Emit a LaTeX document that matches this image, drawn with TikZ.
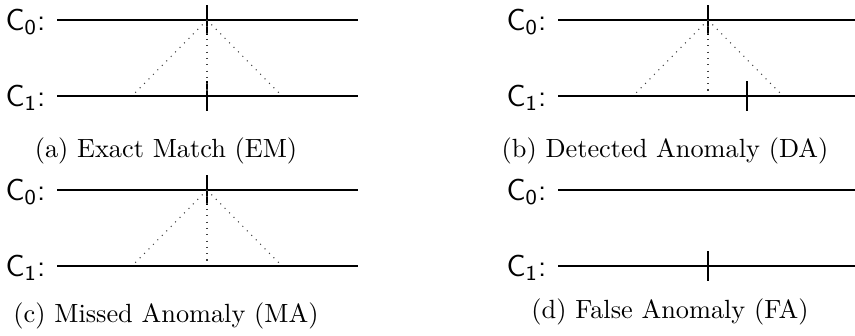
\documentclass[tikz,border=0pt]{standalone}
\usepackage{amsmath}
\usepackage{tikz}
\usetikzlibrary{positioning}

\begin{document}
\begin{tikzpicture}[x=0.38pt,y=-0.38pt,
    axis/.style={line width=0.9pt},
    evt/.style={line width=0.9pt},
    link/.style={dotted,line width=0.4pt,black!75},
    chan/.style={anchor=base east,inner sep=0pt,font=\fontsize{11.5}{13}\selectfont\sffamily},
    subcap/.style={anchor=base,inner sep=0pt}]
    \useasboundingbox (0,0) rectangle (855,335);
    % the two channels of each panel
    \foreach \p/\px/\py in {a/0/0,b/501/0,c/0/170,d/501/170}{
        \coordinate (\p0w) at (\px+57,\py+20);
        \coordinate (\p0m) at (\px+207,\py+20);
        \coordinate (\p0e) at (\px+358,\py+20);
        \coordinate (\p1w) at (\px+57,\py+96);
        \coordinate (\p1m) at (\px+207,\py+96);
        \coordinate (\p1e) at (\px+358,\py+96);
        \coordinate (\p1l) at (\px+134,\py+94);
        \coordinate (\p1c) at (\px+207,\py+94);
        \coordinate (\p1r) at (\px+280,\py+94);
        \node[chan] (\p0lab) at (\px+46,\py+30) {C\textsubscript{0}:};
        \node[chan] (\p1lab) at (\px+46,\py+106) {C\textsubscript{1}:};
        \draw[axis] (\p0w) -- (\p0e);
        \draw[axis] (\p1w) -- (\p1e);
    }
    \coordinate (b1x) at (747,96);
    % events
    \draw[evt] (a0m) ++(0,-15) -- ++(0,30);
    \draw[evt] (a1m) ++(0,-15) -- ++(0,30);
    \draw[evt] (b0m) ++(0,-15) -- ++(0,30);
    \draw[evt] (b1x) ++(0,-15) -- ++(0,30);
    \draw[evt] (c0m) ++(0,-15) -- ++(0,30);
    \draw[evt] (d1m) ++(0,-15) -- ++(0,30);
    % search windows
    \foreach \p in {a,b,c}{
        \draw[link] (\p0m) -- (\p1l);
        \draw[link] (\p0m) -- (\p1c);
        \draw[link] (\p0m) -- (\p1r);
    }
    \node[subcap] (acap) at (166,157) {(a) Exact Match (EM)};
    \node[subcap] (bcap) at (665,157) {(b) Detected Anomaly (DA)};
    \node[subcap] (ccap) at (166,322) {(c) Missed Anomaly (MA)};
    \node[subcap] (dcap) at (670,318) {(d) False Anomaly (FA)};
\end{tikzpicture}
\end{document}
